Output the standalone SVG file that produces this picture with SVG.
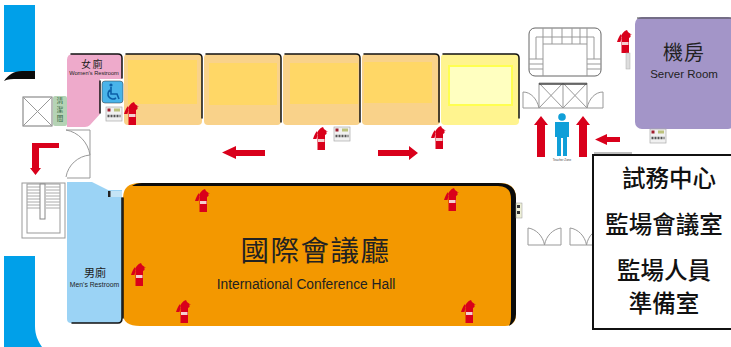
<svg xmlns="http://www.w3.org/2000/svg" xmlns:xlink="http://www.w3.org/1999/xlink" width="731" height="347" viewBox="0 0 731 347">
<style>
.s{font-family:"Liberation Sans",Arial,sans-serif}
.c{font-family:"Noto Sans CJK TC","Liberation Sans",sans-serif}
.m{text-anchor:middle}
.l{fill:none;stroke:#999;stroke-width:1}
.k{fill:none;stroke:#111;stroke-linecap:round}
.r{fill:#d9001b}
.room{fill:#f9d28a}
.inner{fill:#ffd766}
.b{font-family:"Noto Sans CJK TC",sans-serif;font-weight:500;font-size:23.500px;text-anchor:middle;fill:#111}
</style>
<defs>
<g id="ext">
<rect class="r" x="-3.500" y="-3" width="7.500" height="15"/>
<path class="r" d="M-4 -3C-4 -7-1 -10 2 -11L3 -9L7 -6L5 -6.500C6 -5 6 -4 4 -3zM-4 -7C-6 -5-7 -2-8 1L-4.500 1L-3.500 -3z"/>
<rect x="-3" y="1" width="6.500" height="3" fill="#f4d0d0"/>
</g>
<g id="panel">
<rect x="0" y="0" width="16" height="14" fill="#f1f1f1" stroke="#aaa" stroke-width=".7"/>
<rect x="1.500" y="1.500" width="3" height="3" fill="#a01c2c"/>
<rect x="8" y="1.500" width="6" height="3" fill="#bcc27c"/>
<path d="M1.500 9h13" stroke="#555" stroke-width="2.500" stroke-dasharray="2 1"/>
</g>
<g id="swing">
<path class="l" d="M0 0V17H33V0"/>
<path class="l" d="M0 0C8 1 15 8 16.500 17C18 8 25 1 33 0"/>
</g>
</defs>

<g id="blue-top"><path d="M4 5H35V72H4z" fill="#00a0e9"/><path d="M4 81C8 75 14 71 22 71H35V79H18C12 79 8 79 4 81z" fill="#0b0b0b"/></g>
<g id="blue-bottom"><path d="M4 256H35V326C35 335 38 341 42 347H4z" fill="#00a0e9"/></g>

<g id="lift-left"><rect x="23" y="97" width="29" height="29" fill="#fff" stroke="#777"/><path class="l" d="M23 97L52 126M52 97L23 126"/></g>
<g id="cleaning"><rect x="53" y="96" width="14" height="30" rx="2" fill="#b5d3b5"/><text class="c m" font-size="6.500" fill="#2f5f3a"><tspan x="60" y="103">清</tspan><tspan x="60" y="112">潔</tspan><tspan x="60" y="121">間</tspan></text></g>

<g id="womens"><path d="M67 60Q67 54 73 54H120Q122 54 122 58V79H100V114L90 125Q88 127 85 127H67z" fill="#eeaacb"/>
<path class="k" stroke-width="1.500" d="M71 54H118Q122 54 122 58V78"/><path class="k" stroke-width="1.500" d="M100 81V113"/>
<text class="c m" x="92.500" y="68" font-size="10" letter-spacing="1.500" fill="#222">女廁</text><text class="s m" x="94" y="75" font-size="5.700" fill="#222">Women's Restroom</text></g>

<g id="room-1"><rect class="room" x="124" y="54" width="78" height="71" rx="4"/><rect class="inner" x="128" y="60" width="69" height="44"/><path class="k" stroke-width="1.500" d="M126 54H198Q202 54 202 58V118"/></g>
<g id="room-2"><rect class="room" x="204" y="54" width="77" height="71" rx="4"/><rect class="inner" x="209" y="63" width="68" height="42"/><path class="k" stroke-width="1.500" d="M206 54H277Q281 54 281 58V122"/></g>
<g id="room-3"><rect class="room" x="283" y="54" width="77" height="71" rx="4"/><rect class="inner" x="290" y="63" width="68" height="41"/><path class="k" stroke-width="1.500" d="M285 54H356Q360 54 360 58V122"/></g>
<g id="room-4"><rect class="room" x="362" y="54" width="78" height="71" rx="4"/><rect class="inner" x="364" y="62" width="68" height="41"/><path class="k" stroke-width="1.500" d="M364 54H435Q439 54 439 58V122"/></g>
<g id="room-5"><rect x="441" y="54" width="78" height="71" rx="4" fill="#fff48f"/><rect x="449" y="66" width="63" height="39" fill="#ffffc0" stroke="#ffff50" stroke-width="2"/><path class="k" stroke-width="1.500" d="M443 54H515Q519 54 519 58V118"/></g>

<g id="accessible"><rect x="102" y="81" width="21" height="22" rx="3" fill="#49b4ea" stroke="#333" stroke-width=".5"/><circle cx="111" cy="85" r="1.600" fill="#0b5fa8"/><path d="M111 87V94H117L119 99M110 90A5 5 0 1 0 116 98" fill="none" stroke="#0b5fa8" stroke-width="1.600"/></g>
<use xlink:href="#panel" href="#panel" x="106" y="107"/>
<use xlink:href="#ext" href="#ext" x="132" y="113"/>

<g id="door-centre"><path class="l" d="M66 130H90V155L90 178H67M66 130C78 132 88 142 90 155C78 156 68 165 66 177"/></g>
<g id="stairs"><rect x="22" y="183" width="43" height="55" fill="#fff" stroke="#999"/><rect x="27" y="184" width="33" height="49" fill="#fff" stroke="#999"/><path d="M27 187H40M27 190H40M27 193H40M27 196H40M27 199H40M27 202H40M27 205H40M27 208H40M46 187H60M46 190H60M46 193H60M46 196H60M46 199H60M46 202H60M46 205H60M46 208H60" stroke="#aaa" stroke-width="1"/><rect x="40" y="184" width="5" height="35" fill="#fff" stroke="#888"/></g>

<g id="mens"><path d="M67 182H92L108 190H122V318Q122 323 118 323H71Q67 323 67 319z" fill="#9bd3f5"/><path class="k" stroke-width="1.500" d="M122 198V318Q122 323 118 323H72"/>
<text class="c m" x="95" y="277" font-size="11" fill="#222">男廁</text><text class="s m" x="94.500" y="287" font-size="6.800" fill="#222">Men's Restroom</text><rect x="108" y="191" width="14" height="6" fill="#c4e4f6"/><rect x="108" y="191" width="2.500" height="6" fill="#222"/></g>

<g id="hall"><path d="M140 183H500Q516 183 516 198V314Q516 326 505 326H140Q123 326 123 314V198Q123 183 140 183z" fill="#f39800"/>
<path d="M132 186Q136 183 142 183H498Q516 183 516 198V314Q516 322 509 326C511 322 511 318 511 314V199Q511 186 498 186H142Q136 186 132 186z" fill="#0b0b0b"/>
<path class="k" stroke-width="1.500" d="M123 198V318"/>
<text class="c m" x="315.500" y="261" font-size="28.500" letter-spacing="1.500" fill="#222">國際會議廳</text><text class="s m" x="306" y="289" font-size="13.800" fill="#222">International Conference Hall</text></g>
<use xlink:href="#ext" href="#ext" x="203" y="200"/>
<use xlink:href="#ext" href="#ext" x="452" y="199"/>
<use xlink:href="#ext" href="#ext" x="139" y="274"/>
<use xlink:href="#ext" href="#ext" x="184" y="311"/>
<use xlink:href="#ext" href="#ext" x="469" y="311"/>
<use xlink:href="#ext" href="#ext" x="321" y="138"/>
<use xlink:href="#ext" href="#ext" x="439" y="137"/>
<use xlink:href="#panel" href="#panel" x="334" y="127"/>
<g id="hall-sign"><rect x="516" y="203" width="6" height="15" fill="#eef0d8" stroke="#999" stroke-width=".5"/><rect x="517" y="205" width="3" height="3" fill="#333"/><rect x="517" y="211" width="3" height="3" fill="#333"/></g>

<g id="connectors">
<path class="r" d="M59 143H32V168H30L35.500 175L41 168H39V148H59z"/>
<path class="r" d="M265 150V156H236V159L222 152.500L236 146V150z"/>
<path class="r" d="M378 150H409V146L418 153L409 160V156H378z"/>
<path class="r" d="M537 157V125H534L541 116L548 125H545V157z"/>
<path class="r" d="M579 157V125H576L583 116L590 125H587V157z"/>
<path class="r" d="M620 137H607V134L595 139.500L607 145V142H620z"/>
</g>

<g id="lift-right"><path class="l" d="M539 108V83H563V108M563 83H587V108"/><path class="l" d="M539 83L563 108M563 83L539 108M563 83L587 108M587 83L563 108"/><path d="M539 84H587" stroke="#444" stroke-width="1.500"/><path class="l" d="M523 108H603M523 108V92C531 92 537 99 539 108M603 108V92C595 92 589 99 587 108"/></g>
<g id="stairs-right"><rect x="529" y="28" width="72" height="48" rx="6" fill="#fff" stroke="#666"/><path class="l" d="M536 37H594M543 28V44H587V28M552 28V44M562 28V44M572 28V44M580 28V44M529 59H543M529 64H543M529 69H543M601 59H587M601 64H587M601 69H587M543 44V76M587 44V76M536 37V59M594 37V59" stroke-width=".8"/></g>
<g id="person"><circle cx="562" cy="117" r="3.800" fill="#109fd8"/><path d="M555 122H569V137H567V156H563V138H561V156H557V137H555z" fill="#109fd8"/><text class="s m" x="562" y="161" font-size="3" fill="#444">Teacher Zone</text></g>

<g id="server-room"><rect x="635" y="17" width="100" height="112" rx="7" fill="#a395c8"/><path d="M637 18H731" stroke="#444" stroke-width="1"/>
<text class="c m" x="684" y="60" font-size="20" letter-spacing="1" fill="#222">機房</text><text class="s m" x="684" y="78" font-size="11.500" fill="#222">Server Room</text></g>
<use xlink:href="#ext" href="#ext" x="625" y="41"/>
<rect id="ext-sign" x="626" y="53" width="4" height="16" fill="#ddd" stroke="#aaa" stroke-width=".5"/>
<use xlink:href="#panel" href="#panel" x="650" y="129"/>

<g id="swing-doors"><use xlink:href="#swing" href="#swing" x="528" y="228"/><use xlink:href="#swing" href="#swing" x="570" y="228"/></g>

<g id="legend"><path d="M594 153H632" stroke="#aaa" stroke-width="1.500"/><rect x="593" y="155" width="140" height="174" fill="#fff" stroke="#111" stroke-width="2"/>
<text class="b" x="669" y="187">試務中心</text><text class="b" x="664" y="233">監場會議室</text><text class="b" x="664" y="279">監場人員</text><text class="b" x="664" y="312">準備室</text></g>
</svg>
